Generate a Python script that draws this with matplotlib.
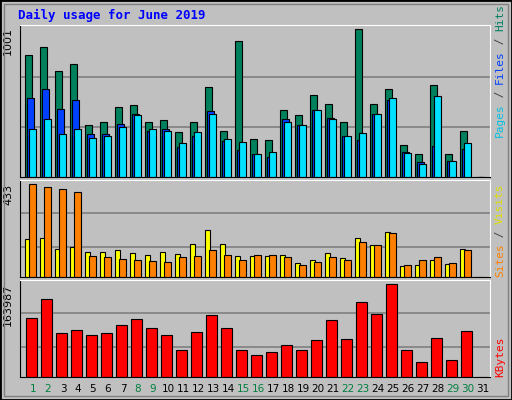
import numpy as np
import matplotlib.pyplot as plt
from matplotlib.patches import Rectangle

days = list(range(1, 32))
hits = [824, 879, 718, 763, 349, 376, 471, 491, 376, 383, 308, 376, 607, 315, 920, 260,
        254, 451, 417, 559, 498, 376, 1001, 498, 593, 220, 159, 621, 159, 315, 0]
files = [532, 593, 464, 525, 288, 288, 356, 424, 315, 322, 206, 281, 444, 247, 186, 159,
         138, 390, 349, 451, 403, 281, 254, 424, 519, 172, 104, 213, 111, 193, 0]
pages = [322, 390, 294, 322, 267, 281, 342, 417, 328, 315, 233, 308, 430, 260, 240, 159,
         172, 376, 349, 451, 396, 281, 301, 430, 532, 165, 91, 546, 111, 233, 0]
sites = [179, 184, 132, 141, 118, 118, 127, 113, 104, 118, 108, 155, 221, 155, 99, 99,
         99, 104, 66, 80, 113, 89, 184, 151, 212, 52, 56, 80, 61, 132, 0]
visits = [433, 419, 410, 395, 99, 94, 85, 80, 75, 71, 94, 99, 127, 104, 80, 104,
          104, 94, 56, 71, 94, 80, 165, 151, 207, 56, 80, 94, 66, 127, 0]
kbytes = [104522, 136960, 77490, 82897, 73886, 77490, 91907, 102720, 86500, 73886,
          46855, 79292, 109928, 86500, 46855, 39646, 43250, 55865, 46855, 64876,
          100918, 66678, 131553, 111730, 163987, 46855, 27032, 68480, 30636, 81095, 0]
weekend = [1, 2, 8, 9, 15, 16, 22, 23, 29, 30]

W, H = 512, 400
BG = "#C0C0C0"
fig = plt.figure(figsize=(W / 100, H / 100), dpi=100, facecolor=BG)

# outer frame
fig.patches.append(Rectangle((0, 0), 1, 1, transform=fig.transFigure, fill=False,
                             edgecolor="black", linewidth=2))
fig.patches.append(Rectangle((4 / W, 4 / H), 1 - 8 / W, 1 - 8 / H, transform=fig.transFigure,
                             fill=False, edgecolor="#808080", linewidth=1))

fig.text(18 / W, 1 - 15 / H, "Daily usage for June 2019", color="#0000FF",
         family="DejaVu Sans Mono", weight="bold", fontsize=9, va="center")


def panel(top, bottom):
    ax = fig.add_axes([20 / W, 1 - bottom / H, 470 / W, (bottom - top) / H])
    ax.set_facecolor(BG)
    ax.set_xlim(0, 31.33)
    for s in ["left", "bottom"]:
        ax.spines[s].set_color("black")
    for s in ["top", "right"]:
        ax.spines[s].set_color("white")
    ax.set_xticks([])
    ax.set_yticks([])
    return ax


def grid(ax, top, fracs):
    ax.set_ylim(0, top)
    for f in fracs:
        ax.axhline(f * top, color="#808080", linewidth=1.2, zorder=0)


x = np.arange(31)
kw = dict(edgecolor="black", linewidth=0.8, align="edge")

# hits / files / pages
ax1 = panel(25, 177)
grid(ax1, 1030, [0.327, 0.66])
ax1.bar(x + 0.35, hits, 0.47, color="#00805C", **kw)
ax1.bar(x + 0.47, files, 0.47, color="#0040FF", **kw)
ax1.bar(x + 0.62, pages, 0.47, color="#00E0FF", **kw)
ax1.text(-0.015, 0.985, "1001", transform=ax1.transAxes, rotation=90,
         ha="right", va="top", fontsize=8)

# sites / visits
ax2 = panel(180, 277)
grid(ax2, 452, [0.31, 0.655])
ax2.bar(x + 0.35, sites, 0.3, color="#FFFF00", **kw)
ax2.bar(x + 0.62, visits, 0.47, color="#FF8000", **kw)
ax2.text(-0.015, 0.96, "433", transform=ax2.transAxes, rotation=90,
         ha="right", va="top", fontsize=8)

# kbytes
ax3 = panel(280, 377)
grid(ax3, 171195, [0.31, 0.655])
ax3.bar(x + 0.42, kbytes, 0.69, color="#FF0000", **kw)
ax3.text(-0.015, 0.96, "163987", transform=ax3.transAxes, rotation=90,
         ha="right", va="top", fontsize=8)

# day labels
for d in days:
    c = "#008040" if d in weekend else "black"
    fig.text((20 + 15 * (d - 1) + 13) / W, 1 - 389 / H, str(d), color=c,
             ha="center", va="center", fontsize=7.5)


# right side legends
def side(parts, ybot):
    y = ybot
    for txt, col in parts:
        t = fig.text(500 / W, y / H, txt, color=col, rotation=90, ha="center",
                     va="bottom", family="DejaVu Sans Mono", fontsize=8)
        y += len(txt) * 6.6


side([("Pages", "#00C0E0"), (" / ", "#404040"), ("Files", "#0040FF"),
      (" / ", "#404040"), ("Hits", "#008060")], H - 137)
side([("Sites", "#FF8000"), (" / ", "#404040"), ("Visits", "#E0E000")], H - 277)
side([("KBytes", "#FF0000")], H - 377)

fig.savefig("out.png", dpi=100, facecolor=BG)
